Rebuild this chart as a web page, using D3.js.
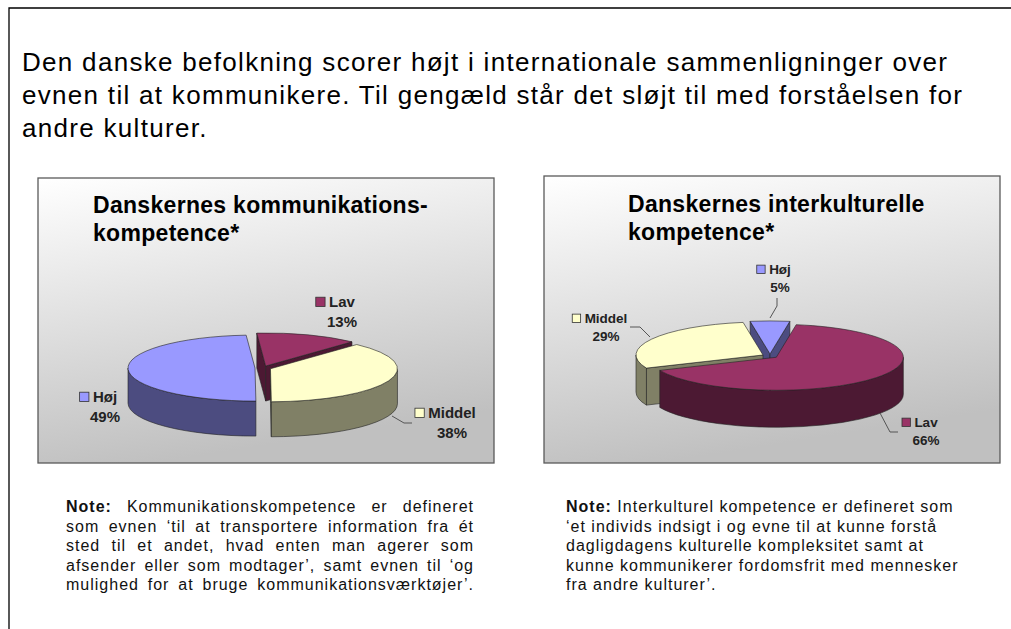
<!DOCTYPE html>
<html>
<head>
<meta charset="utf-8">
<script src="https://cdn.jsdelivr.net/npm/d3@7"></script>
<style>
  body { margin: 0; background: #fff; overflow: hidden; font-family: "Liberation Sans", Arial, sans-serif; }
  #wrap { position: relative; width: 1011px; height: 629px; }
  svg { position: absolute; left: 0; top: 0; }
  .note { position: absolute; font-size: 16px; line-height: 19.5px; color: #111; letter-spacing: 1px; }
  .note .ln { white-space: nowrap; }
  .note.just .ln { white-space: normal; text-align: justify; text-align-last: justify; }
</style>
</head>
<body>
<div id="wrap"></div>
<script>
// ---- data ----
const pageTitle = [
  "Den danske befolkning scorer højt i internationale sammenligninger over",
  "evnen til at kommunikere. Til gengæld står det sløjt til med forståelsen for",
  "andre kulturer."
];

const commTitle = ["Danskernes kommunikations-", "kompetence*"];
const commCategories = ["Lav", "Middel", "Høj"];
const commValues = [13, 38, 49];

const interTitle = ["Danskernes interkulturelle", "kompetence*"];
const interCategories = ["Høj", "Lav", "Middel"];
const interValues = [5, 66, 29];

const commNote = [
  "<b>Note:</b> Kommunikationskompetence er defineret",
  "som evnen ‘til at transportere information fra ét",
  "sted til et andet, hvad enten man agerer som",
  "afsender eller som modtager’, samt evnen til ‘og",
  "mulighed for at bruge kommunikationsværktøjer’."
];
const interNote = [
  "<b>Note:</b> Interkulturel kompetence er defineret som",
  "‘et individs indsigt i og evne til at kunne forstå",
  "dagligdagens kulturelle kompleksitet samt at",
  "kunne kommunikerer fordomsfrit med mennesker",
  "fra andre kulturer’."
];

// ---- colours ----
const topColor = d3.scaleOrdinal()
  .domain(["Høj", "Middel", "Lav"])
  .range(["#9999ff", "#ffffcc", "#993366"]);
const sideColor = d3.scaleOrdinal()
  .domain(["Høj", "Middel", "Lav"])
  .range(["#4c4c80", "#808066", "#4c1933"]);

const W = 1011, H = 629;
const wrap = d3.select("#wrap");
const svg = wrap.append("svg").attr("width", W).attr("height", H);

// page frame (top + left rule)
svg.append("path")
  .attr("d", `M9,${H} L9,8 L${W},8`)
  .attr("fill", "none")
  .attr("stroke", "#000")
  .attr("stroke-width", 1.3);

// page title
svg.append("text")
  .attr("x", 22)
  .attr("y", 71)
  .style("font-size", "26px")
  .style("letter-spacing", "1.3px")
  .style("fill", "#000")
  .selectAll("tspan")
  .data(pageTitle)
  .enter().append("tspan")
  .attr("x", 22)
  .attr("dy", (d, i) => i ? 33 : 0)
  .text(d => d);

// background gradient for chart boxes
const defs = svg.append("defs");
const grad = defs.append("linearGradient")
  .attr("id", "boxGrad")
  .attr("x1", 0).attr("y1", 0).attr("x2", 0.25).attr("y2", 1);
grad.append("stop").attr("offset", "0%").attr("stop-color", "#ffffff");
grad.append("stop").attr("offset", "100%").attr("stop-color", "#c0c0c0");

function pie3D(cfg) {
  const g = svg.append("g");

  // chart area box
  g.append("rect")
    .attr("x", cfg.box[0]).attr("y", cfg.box[1])
    .attr("width", cfg.box[2]).attr("height", cfg.box[3])
    .attr("fill", "url(#boxGrad)")
    .attr("stroke", "#5a5a5a")
    .attr("stroke-width", 1.3);

  // chart title
  g.append("text")
    .attr("x", cfg.titleX)
    .attr("y", cfg.titleY)
    .style("font-size", "23px")
    .style("font-weight", "bold")
    .style("letter-spacing", "0.3px")
    .style("fill", "#000")
    .selectAll("tspan")
    .data(cfg.title)
    .enter().append("tspan")
    .attr("x", cfg.titleX)
    .attr("dy", (d, i) => i ? 28 : 0)
    .text(d => d);

  const rx = cfg.rx, ry = cfg.ry, h = cfg.depth, e = cfg.explode;
  const k = ry / rx;

  const pie = d3.pie()
    .sort(null)
    .value(d => d.value)
    .startAngle(cfg.rotate)
    .endAngle(cfg.rotate + 2 * Math.PI);

  const slices = pie(cfg.cats.map((c, i) => ({ cat: c, value: cfg.vals[i] })));

  slices.forEach(s => {
    const mid = (s.startAngle + s.endAngle) / 2;
    s.ox = cfg.cx + e * Math.sin(mid);
    s.oy = cfg.cy - e * Math.cos(mid) * k;
  });

  const pt = (s, a, dz) => [s.ox + rx * Math.sin(a), s.oy - ry * Math.cos(a) + (dz || 0)];
  const arcTo = (a0, a1, sweep, p) =>
    `A${rx},${ry} 0 ${Math.abs(a1 - a0) > Math.PI ? 1 : 0} ${sweep} ${p[0]},${p[1]}`;

  // radial cut faces that face the viewer
  const faces = [];
  slices.forEach(s => {
    if (Math.sin(s.startAngle) < -1e-6) faces.push({ s, a: s.startAngle });
    if (Math.sin(s.endAngle) > 1e-6) faces.push({ s, a: s.endAngle });
  });
  faces.sort((a, b) => -Math.cos(a.a) - -Math.cos(b.a));

  g.selectAll(".face")
    .data(faces)
    .enter().append("path")
    .attr("class", "face")
    .attr("d", f => {
      const c0 = [f.s.ox, f.s.oy], p0 = pt(f.s, f.a);
      return `M${c0} L${p0} L${p0[0]},${p0[1] + h} L${c0[0]},${c0[1] + h} Z`;
    })
    .attr("fill", f => sideColor(f.s.data.cat))
    .attr("stroke", "#222")
    .attr("stroke-width", 0.6)
    .attr("stroke-linejoin", "round");

  // outer walls on the front half
  const walls = [];
  slices.forEach(s => {
    [-2 * Math.PI, 0, 2 * Math.PI].forEach(shift => {
      const lo = Math.max(s.startAngle, Math.PI / 2 + shift);
      const hi = Math.min(s.endAngle, 3 * Math.PI / 2 + shift);
      if (hi > lo + 1e-6) walls.push({ s, a0: lo, a1: hi });
    });
  });

  g.selectAll(".wall")
    .data(walls)
    .enter().append("path")
    .attr("class", "wall")
    .attr("d", w => {
      const t0 = pt(w.s, w.a0), t1 = pt(w.s, w.a1);
      const b0 = pt(w.s, w.a0, h), b1 = pt(w.s, w.a1, h);
      return `M${t0} ${arcTo(w.a0, w.a1, 1, t1)} L${b1} ${arcTo(w.a0, w.a1, 0, b0)} Z`;
    })
    .attr("fill", w => sideColor(w.s.data.cat))
    .attr("stroke", "#222")
    .attr("stroke-width", 0.6)
    .attr("stroke-linejoin", "round");

  // top faces
  g.selectAll(".top")
    .data(slices)
    .enter().append("path")
    .attr("class", "top")
    .attr("d", s => {
      const p0 = pt(s, s.startAngle), p1 = pt(s, s.endAngle);
      return `M${s.ox},${s.oy} L${p0} ${arcTo(s.startAngle, s.endAngle, 1, p1)} Z`;
    })
    .attr("fill", s => topColor(s.data.cat))
    .attr("stroke", "#222")
    .attr("stroke-width", 0.6)
    .attr("stroke-linejoin", "round");

  // leader lines
  g.selectAll(".leader")
    .data(cfg.leaders)
    .enter().append("polyline")
    .attr("class", "leader")
    .attr("points", d => d.join(" "))
    .attr("fill", "none")
    .attr("stroke", "#555")
    .attr("stroke-width", 1);

  // data labels: key + name, percent underneath
  const lab = g.selectAll(".lab")
    .data(slices)
    .enter().append("g")
    .attr("class", "lab")
    .attr("transform", s => `translate(${cfg.labels[s.data.cat]})`)
    .style("font-size", cfg.labelSize + "px")
    .style("font-weight", "bold")
    .style("fill", "#222");

  lab.append("text")
    .attr("class", "name")
    .attr("text-anchor", "middle")
    .text(s => s.data.cat);

  lab.append("text")
    .attr("y", cfg.labelSize * 1.33)
    .attr("text-anchor", "middle")
    .text(s => s.data.value + "%");

  lab.each(function () {
    const gl = d3.select(this);
    const wd = gl.select(".name").node().getComputedTextLength();
    const sz = cfg.labelSize * 0.62;
    gl.insert("rect", "text")
      .attr("x", -wd / 2 - sz - 4)
      .attr("y", -sz - 0.5)
      .attr("width", sz)
      .attr("height", sz)
      .attr("fill", s => topColor(s.data.cat))
      .attr("stroke", "#333")
      .attr("stroke-width", 0.8);
  });
}

pie3D({
  box: [38, 178, 456, 285],
  title: commTitle, titleX: 93, titleY: 213,
  cats: commCategories, vals: commValues,
  cx: 263, cy: 368, rx: 127, ry: 33, depth: 35, explode: 8,
  rotate: -4 * Math.PI / 180,
  labelSize: 15,
  labels: { "Lav": [342, 307], "Middel": [452, 418], "Høj": [105, 402] },
  leaders: [[[392, 416], [404, 423], [412, 423]]]
});

pie3D({
  box: [544, 176, 456, 287],
  title: interTitle, titleX: 628, titleY: 212,
  cats: interCategories, vals: interValues,
  cx: 770, cy: 356, rx: 127, ry: 33, depth: 37, explode: 8,
  rotate: -9 * Math.PI / 180,
  labelSize: 13.5,
  labels: { "Høj": [780, 274], "Middel": [606, 323], "Lav": [926, 427] },
  leaders: [
    [[777, 298], [777, 306], [770, 318]],
    [[630, 327], [640, 327], [650, 337]],
    [[880, 413], [890, 432], [898, 432]]
  ]
});

// notes underneath
function note(lines, left, width, justify) {
  wrap.append("div")
    .attr("class", "note" + (justify ? " just" : ""))
    .style("left", left + "px")
    .style("top", "497px")
    .style("width", width + "px")
    .selectAll("div")
    .data(lines)
    .enter().append("div")
    .attr("class", "ln")
    .html(d => d);
}
note(commNote, 66, 408, true);
note(interNote, 566, 420, false);
</script>
</body>
</html>
